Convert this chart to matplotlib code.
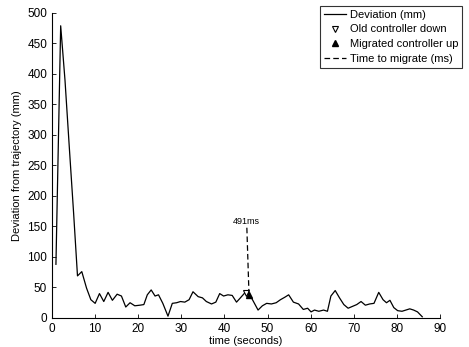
import matplotlib
matplotlib.use('Agg')
import matplotlib.pyplot as plt

plt.rcParams['font.family'] = ['Liberation Sans', 'DejaVu Sans']

# deviation samples (time in s, deviation in mm)
time_s = [0.9, 2.0, 3.0, 4.0, 5.0, 5.9, 6.9, 8.0, 9.0, 10.0, 11.0, 12.0, 13.0,
          14.0, 15.1, 16.1, 17.1, 18.1, 19.2, 20.4, 21.3, 22.1, 23.0, 23.9,
          24.7, 25.7, 26.9, 27.9, 28.9, 29.8, 30.8, 31.8, 32.7, 33.9, 34.9,
          35.8, 37.0, 38.0, 38.9, 39.8, 40.8, 41.8, 42.8, 43.7, 44.7, 45.5,
          46.2, 47.8, 48.8, 49.8, 50.9, 52.0, 53.0, 54.0, 54.9, 56.0, 57.2,
          58.3, 59.3, 60.1, 60.9, 61.9, 63.0, 63.9, 64.7, 65.7, 66.7, 67.7,
          68.7, 69.7, 70.7, 71.7, 72.7, 73.7, 74.7, 75.8, 76.8, 77.6, 78.4,
          79.3, 80.2, 81.2, 82.1, 83.0, 83.9, 84.8, 85.9]
deviation = [88, 479, 390, 280, 172, 69, 76, 49, 30, 24, 40, 27, 42,
             29, 39, 36, 18, 25, 20, 21, 22, 38, 46, 36,
             38, 24, 3, 24, 25, 27, 26, 30, 43, 35, 33,
             27, 23, 26, 40, 36, 38, 37, 26, 33, 41, 40,
             34, 13, 20, 24, 23, 25, 30, 34, 38, 26, 23,
             14, 16, 10, 13, 11, 13, 11, 36, 45, 33, 22,
             16, 19, 22, 27, 21, 23, 24, 42, 30, 25, 29,
             17, 12, 11, 13, 15, 13, 10, 2]

down_t, down_y = 45.0, 41
up_t, up_y = 45.6, 38
migrate_top = 148
migrate_label = '491ms'

fig = plt.figure(figsize=(4.69, 3.47), dpi=100)
ax = fig.add_axes([0.111, 0.0836, 0.827, 0.879])

ax.plot(time_s, deviation, color='black', linewidth=0.9, label='Deviation (mm)')
ax.plot([down_t], [down_y], linestyle='none', marker='v', markersize=5,
        markerfacecolor='white', markeredgecolor='black', markeredgewidth=0.8,
        label='Old controller down')
ax.plot([up_t], [up_y], linestyle='none', marker='^', markersize=5,
        color='black', label='Migrated controller up')
ax.plot([down_t + 0.2, up_t + 0.1], [migrate_top, up_y], color='black',
        linestyle=(0, (4.5, 2.5)), linewidth=0.9, label='Time to migrate (ms)')
ax.text(down_t, migrate_top + 3, migrate_label, fontsize=6.5, ha='center',
        va='bottom')

ax.set_xlim(0, 90)
ax.set_ylim(0, 500)
ax.set_xticks(range(0, 91, 10))
ax.set_yticks(range(0, 501, 50))
ax.tick_params(direction='in', labelsize=8.5, length=3, width=0.6)
ax.spines['top'].set_visible(False)
ax.spines['right'].set_visible(False)
for s in ['left', 'bottom']:
    ax.spines[s].set_linewidth(0.8)

ax.set_xlabel('time (seconds)', fontsize=8, labelpad=1)
ax.set_ylabel('Deviation from trajectory (mm)', fontsize=8, labelpad=4)

leg = fig.legend(loc='upper right', bbox_to_anchor=(0.985, 0.983), fontsize=8,
                 frameon=True, fancybox=False, edgecolor='black',
                 handlelength=2.0, handletextpad=0.3, borderpad=0.35,
                 labelspacing=0.42, borderaxespad=0)
leg.get_frame().set_linewidth(0.8)

fig.savefig('out.png', dpi=100)
